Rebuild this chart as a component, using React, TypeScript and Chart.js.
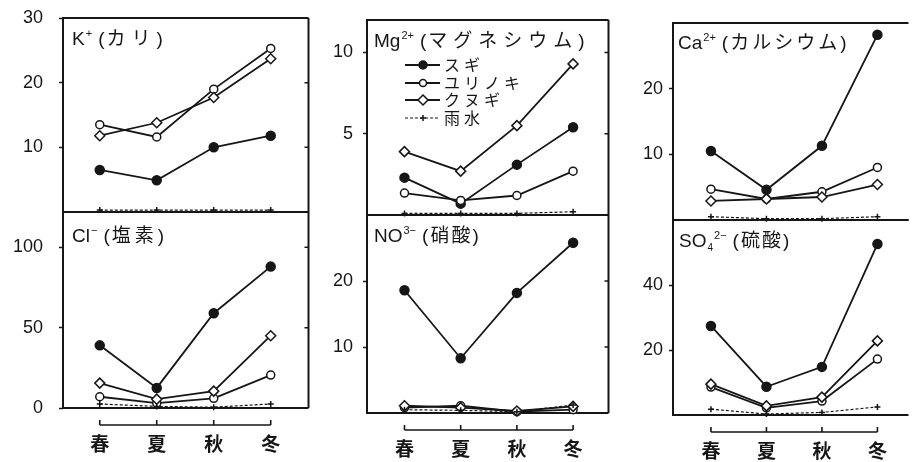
import React, { useEffect, useRef } from "react";
import { Chart, registerables } from "chart.js";

Chart.register(...registerables);

// ---------------- data ----------------
const SEASONS = ["春", "夏", "秋", "冬"];
const SERIES = ["スギ", "ユリノキ", "クヌギ", "雨水"];

const K_SUGI = [6.5, 4.9, 10, 11.8];
const K_YURINOKI = [13.5, 11.6, 19, 25.3];
const K_KUNUGI = [11.8, 13.8, 17.7, 23.7];
const K_RAIN = [0.3, 0.3, 0.3, 0.3];
const K_TICKS = [10, 20, 30];
const K_MAX = 30;

const CL_SUGI = [39, 12.5, 59, 88];
const CL_YURINOKI = [7, 3, 6, 20.5];
const CL_KUNUGI = [15.5, 5.5, 10.5, 45];
const CL_RAIN = [2.5, 1, 0.5, 2.5];
const CL_TICKS = [0, 50, 100];
const CL_MAX = 122;

const MG_SUGI = [2.3, 0.7, 3.1, 5.4];
const MG_YURINOKI = [1.35, 0.9, 1.2, 2.7];
const MG_KUNUGI = [3.9, 2.7, 5.5, 9.3];
const MG_RAIN = [0.1, 0.1, 0.1, 0.2];
const MG_TICKS = [5, 10];
const MG_MAX = 12;

const NO3_SUGI = [18.6, 8.3, 18.2, 25.8];
const NO3_YURINOKI = [0.8, 1.1, 0.2, 0.5];
const NO3_KUNUGI = [1.1, 0.8, 0.3, 1.0];
const NO3_RAIN = [0.5, 0.4, 0.2, 1.2];
const NO3_TICKS = [10, 20];
const NO3_MAX = 30;

const CA_SUGI = [10.5, 4.6, 11.3, 28.2];
const CA_YURINOKI = [4.7, 3.2, 4.3, 8.0];
const CA_KUNUGI = [2.9, 3.2, 3.5, 5.4];
const CA_RAIN = [0.5, 0.2, 0.2, 0.5];
const CA_TICKS = [10, 20];
const CA_MAX = 30;

const SO4_SUGI = [27.4, 8.7, 14.8, 52.6];
const SO4_YURINOKI = [8.6, 2.2, 4.3, 17.2];
const SO4_KUNUGI = [9.5, 2.8, 5.5, 22.8];
const SO4_RAIN = [1.8, 0.3, 0.8, 2.5];
const SO4_TICKS = [20, 40];
const SO4_MAX = 60;

// ---------------- styling ----------------
const INK = "#161616";
const TICK_FONT = "'Liberation Sans', Arial, sans-serif";
const CJK_FONT = "'Noto Sans CJK JP', sans-serif";

const STYLES = [
  { pointStyle: "circle", radius: 4.5, fill: INK, dash: [] as number[], width: 1.8 },
  { pointStyle: "circle", radius: 4, fill: "#ffffff", dash: [] as number[], width: 1.8 },
  { pointStyle: "rectRot", radius: 5, fill: "#ffffff", dash: [] as number[], width: 1.8 },
  { pointStyle: "cross", radius: 3, fill: INK, dash: [3, 2], width: 1.2 },
];

function drawMarker(ctx: CanvasRenderingContext2D, idx: number, x: number, y: number) {
  const s = STYLES[idx];
  ctx.save();
  ctx.setLineDash([]);
  ctx.lineWidth = 1.5;
  ctx.strokeStyle = INK;
  ctx.fillStyle = s.fill;
  ctx.beginPath();
  if (s.pointStyle === "circle") {
    ctx.arc(x, y, s.radius - 0.5, 0, Math.PI * 2);
    ctx.fill();
    ctx.stroke();
  } else if (s.pointStyle === "rectRot") {
    ctx.moveTo(x, y - s.radius);
    ctx.lineTo(x + s.radius, y);
    ctx.lineTo(x, y + s.radius);
    ctx.lineTo(x - s.radius, y);
    ctx.closePath();
    ctx.fill();
    ctx.stroke();
  } else {
    ctx.moveTo(x - s.radius, y);
    ctx.lineTo(x + s.radius, y);
    ctx.moveTo(x, y - s.radius);
    ctx.lineTo(x, y + s.radius);
    ctx.stroke();
  }
  ctx.restore();
}

const boxPlugin = {
  id: "panelBox",
  beforeDatasetsDraw(chart: any, _args: any, opts: any) {
    const { ctx, chartArea: a } = chart;
    ctx.save();
    ctx.strokeStyle = INK;
    ctx.lineWidth = 2;
    ctx.beginPath();
    ctx.moveTo(a.right, a.top);
    ctx.lineTo(a.left, a.top);
    ctx.lineTo(a.left, a.bottom);
    ctx.lineTo(a.right, a.bottom);
    if (opts.right) {
      ctx.moveTo(a.right, a.top);
      ctx.lineTo(a.right, a.bottom);
    }
    ctx.stroke();
    if (opts.right) {
      ctx.lineWidth = 1.5;
      ctx.beginPath();
      for (const v of opts.ticks || []) {
        const y = chart.scales.y.getPixelForValue(v);
        if (y > a.top + 3 && y < a.bottom - 3) {
          ctx.moveTo(a.right - 4, y);
          ctx.lineTo(a.right, y);
        }
      }
      ctx.stroke();
    }
    ctx.restore();
  },
};

const bracketPlugin = {
  id: "seasonBracket",
  afterDraw(chart: any, _args: any, opts: any) {
    if (!opts.show) return;
    const { ctx, chartArea: a } = chart;
    const xs = chart.scales.x;
    const y = a.bottom + 17;
    ctx.save();
    ctx.strokeStyle = INK;
    ctx.lineWidth = 1.6;
    ctx.beginPath();
    const x0 = xs.getPixelForValue(0);
    const x3 = xs.getPixelForValue(SEASONS.length - 1);
    ctx.moveTo(x0, y);
    ctx.lineTo(x3, y);
    SEASONS.forEach((_, i) => {
      const x = xs.getPixelForValue(i);
      ctx.moveTo(x, y);
      ctx.lineTo(x, y - 5);
    });
    ctx.stroke();
    ctx.fillStyle = INK;
    ctx.font = `bold 19px ${CJK_FONT}`;
    ctx.textAlign = "center";
    ctx.textBaseline = "middle";
    SEASONS.forEach((s, i) => {
      ctx.fillText(s, xs.getPixelForValue(i), a.bottom + 36);
    });
    ctx.restore();
  },
};

const legendPlugin = {
  id: "inlineLegend",
  afterDraw(chart: any, _args: any, opts: any) {
    if (!opts.show) return;
    const { ctx, chartArea: a } = chart;
    const rows = [45, 63, 80, 98];
    ctx.save();
    SERIES.forEach((name, i) => {
      const y = a.top + rows[i];
      const s = STYLES[i];
      ctx.strokeStyle = INK;
      ctx.lineWidth = s.width;
      ctx.setLineDash(s.dash);
      ctx.beginPath();
      ctx.moveTo(a.left + 38, y);
      ctx.lineTo(a.left + 73, y);
      ctx.stroke();
      drawMarker(ctx, i, a.left + 56, y);
      ctx.fillStyle = INK;
      ctx.font = `16px ${CJK_FONT}`;
      (ctx as any).letterSpacing = "4px";
      ctx.textAlign = "left";
      ctx.textBaseline = "middle";
      ctx.fillText(name, a.left + 77, y);
    });
    ctx.restore();
  },
};

type PanelDef = {
  series: number[][];
  yMax: number;
  yTicks: number[];
  left: number;
  top: number;
  width: number;
  height: number;
  pad: { left: number; right: number; top: number; bottom: number };
  axisWidth: number;
  labelPad: number;
  xMin: number;
  xMax: number;
  rightBorder: boolean;
  bracket: boolean;
  legend: boolean;
};

function Panel({ def }: { def: PanelDef }) {
  const ref = useRef<HTMLCanvasElement>(null);
  useEffect(() => {
    const datasets = def.series.map((vals, i) => ({
      label: SERIES[i],
      data: vals.map((v, j) => ({ x: j, y: v })),
      borderColor: INK,
      backgroundColor: STYLES[i].fill,
      pointBackgroundColor: STYLES[i].fill,
      pointBorderColor: INK,
      pointBorderWidth: 1.5,
      pointStyle: STYLES[i].pointStyle as any,
      pointRadius: STYLES[i].radius,
      borderWidth: STYLES[i].width,
      borderDash: STYLES[i].dash,
      fill: false,
      tension: 0,
      clip: false as any,
    }));
    const ordered = [datasets[3], datasets[2], datasets[1], datasets[0]];
    const chart = new Chart(ref.current!, {
      type: "line",
      data: { datasets: ordered },
      plugins: [boxPlugin, bracketPlugin, legendPlugin],
      options: {
        animation: false,
        responsive: false,
        layout: { padding: def.pad },
        plugins: {
          legend: { display: false },
          tooltip: { enabled: false },
          panelBox: { right: def.rightBorder, ticks: def.yTicks },
          seasonBracket: { show: def.bracket },
          inlineLegend: { show: def.legend },
        } as any,
        scales: {
          x: {
            type: "linear",
            min: def.xMin,
            max: def.xMax,
            display: false,
          },
          y: {
            type: "linear",
            min: 0,
            max: def.yMax,
            afterBuildTicks: (s: any) => {
              s.ticks = def.yTicks.map((v) => ({ value: v }));
            },
            afterFit: (s: any) => {
              s.width = def.axisWidth;
              s.paddingTop = 0;
              s.paddingBottom = 0;
            },
            border: { display: false },
            grid: {
              drawOnChartArea: false,
              drawTicks: true,
              tickLength: 4,
              tickColor: INK,
              tickWidth: 1.5,
              color: INK,
            },
            ticks: {
              color: INK,
              padding: def.labelPad,
              font: { family: TICK_FONT, size: 18 },
              callback: (v: any) => String(v),
            },
          },
        },
      },
    });
    return () => chart.destroy();
  }, []);
  return (
    <canvas
      ref={ref}
      width={def.width}
      height={def.height}
      style={{ position: "absolute", left: def.left, top: def.top, width: def.width, height: def.height }}
    />
  );
}

const COL1 = { left: 0, width: 315, axisWidth: 50, padLeft: 13, padRight: 5, labelPad: 16, xMin: -0.645, xMax: 3.663 };
const COL2 = { left: 315, width: 300, axisWidth: 45, padLeft: 7, padRight: 3, labelPad: 10, xMin: -0.667, xMax: 3.63 };
const COL3 = { left: 615, width: 300, axisWidth: 50, padLeft: 8, padRight: 0, labelPad: 6, xMin: -0.684, xMax: 3.56 };

function mk(col: any, top: number, height: number, padTop: number, padBottom: number, series: number[][], yMax: number, yTicks: number[], lower: boolean, legend = false, right = true): PanelDef {
  return {
    series,
    yMax,
    yTicks,
    left: col.left,
    top,
    width: col.width,
    height,
    pad: { left: col.padLeft, right: col.padRight, top: padTop, bottom: padBottom },
    axisWidth: col.axisWidth,
    labelPad: col.labelPad,
    xMin: col.xMin,
    xMax: col.xMax,
    rightBorder: right,
    bracket: lower,
    legend,
  };
}

const PANELS: PanelDef[] = [
  mk(COL1, 0, 226, 18, 14, [K_SUGI, K_YURINOKI, K_KUNUGI, K_RAIN], K_MAX, K_TICKS, false),
  mk(COL1, 198, 264, 14, 54, [CL_SUGI, CL_YURINOKI, CL_KUNUGI, CL_RAIN], CL_MAX, CL_TICKS, true),
  mk(COL2, 0, 229, 20, 14, [MG_SUGI, MG_YURINOKI, MG_KUNUGI, MG_RAIN], MG_MAX, MG_TICKS, false, true),
  mk(COL2, 201, 261, 14, 49, [NO3_SUGI, NO3_YURINOKI, NO3_KUNUGI, NO3_RAIN], NO3_MAX, NO3_TICKS, true),
  mk(COL3, 0, 234, 23, 14, [CA_SUGI, CA_YURINOKI, CA_KUNUGI, CA_RAIN], CA_MAX, CA_TICKS, false, false, false),
  mk(COL3, 206, 256, 14, 47, [SO4_SUGI, SO4_YURINOKI, SO4_KUNUGI, SO4_RAIN], SO4_MAX, SO4_TICKS, true, false, false),
];

const titleStyle = (left: number, top: number): React.CSSProperties => ({
  position: "absolute",
  left,
  top,
  font: `19px 'Liberation Sans', Arial, sans-serif`,
  lineHeight: "24px",
  color: INK,
  whiteSpace: "nowrap",
  zIndex: 2,
});
const Sup = ({ children }: { children: React.ReactNode }) => (
  <span style={{ fontSize: 11, position: "relative", top: -8, marginLeft: 1 }}>{children}</span>
);
const Sub = ({ children }: { children: React.ReactNode }) => (
  <span style={{ fontSize: 10, position: "relative", top: 4, marginLeft: 1 }}>{children}</span>
);
const Jp = ({ children, ls }: { children: React.ReactNode; ls: number }) => (
  <span>
    <span style={{ marginLeft: 6, marginRight: 2 }}>(</span>
    <span style={{ fontFamily: CJK_FONT, fontSize: 19, letterSpacing: ls }}>{children}</span>
    <span>)</span>
  </span>
);

export default function App() {
  return (
    <div style={{ position: "absolute", left: 0, top: 0, width: 915, height: 462, overflow: "hidden", background: "#fff" }}>
      {PANELS.map((p, i) => (
        <Panel key={i} def={p} />
      ))}
      <div style={titleStyle(72, 25)}>K<Sup>+</Sup><Jp ls={6}>カリ</Jp></div>
      <div style={titleStyle(72, 222)}>Cl<Sup>−</Sup><Jp ls={4}>塩素</Jp></div>
      <div style={titleStyle(374, 27)}>Mg<Sup>2+</Sup><Jp ls={6}>マグネシウム</Jp></div>
      <div style={titleStyle(374, 222)}>NO<Sup>3−</Sup><Jp ls={2}>硝酸</Jp></div>
      <div style={titleStyle(678, 29)}>Ca<Sup>2+</Sup><Jp ls={3}>カルシウム</Jp></div>
      <div style={titleStyle(679, 227)}>SO<Sub>4</Sub><Sup>2−</Sup><Jp ls={2}>硫酸</Jp></div>
    </div>
  );
}
